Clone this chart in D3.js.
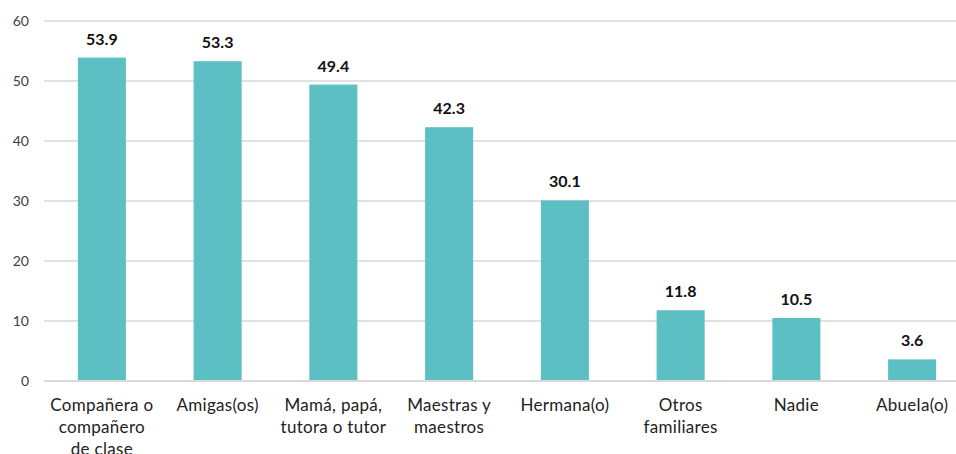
<!DOCTYPE html>
<html>
<head>
<meta charset="utf-8">
<script src="https://cdn.jsdelivr.net/npm/d3@7"></script>
<style>
  body { margin: 0; background: #fff; }
  #chart { width: 956px; height: 454px; }
</style>
</head>
<body>
<div id="chart"></div>
<script>
// data
var categories = [
  ["Compañera o", "compañero", "de clase"],
  ["Amigas(os)"],
  ["Mamá, papá,", "tutora o tutor"],
  ["Maestras y", "maestros"],
  ["Hermana(o)"],
  ["Otros", "familiares"],
  ["Nadie"],
  ["Abuela(o)"]
];
var values = [53.9, 53.3, 49.4, 42.3, 30.1, 11.8, 10.5, 3.6];
var yTicks = [0, 10, 20, 30, 40, 50, 60];

var width = 956, height = 454;
var margin = {top: 21, right: -14, bottom: 73, left: 44};
var innerW = width - margin.left - margin.right,
    innerH = height - margin.top - margin.bottom;

var svg = d3.select("#chart").append("svg")
    .attr("width", width)
    .attr("height", height)
  .append("g")
    .attr("transform", "translate(" + margin.left + "," + margin.top + ")");

var x = d3.scaleBand()
  .domain(d3.range(categories.length))
  .range([0, innerW])
  .paddingInner(0.585)
  .paddingOuter(0.2925);

var y = d3.scaleLinear()
  .domain([0, 60])
  .range([innerH, 0]);

// gridlines
svg.selectAll(".grid")
  .data(yTicks)
  .enter()
  .append("line")
    .attr("x1", 0)
    .attr("x2", innerW)
    .attr("y1", function(d){ return y(d); })
    .attr("y2", function(d){ return y(d); })
    .attr("stroke", "#d9d9d9")
    .attr("stroke-width", function(d){ return d === 0 ? 2 : 1.5; });

// y tick labels
svg.selectAll(".ytick")
  .data(yTicks)
  .enter()
  .append("text")
    .attr("x", -15)
    .attr("y", function(d){ return y(d); })
    .attr("dy", "0.35em")
    .attr("text-anchor", "end")
    .style("font-family", "Lato, 'Open Sans', sans-serif")
    .style("font-size", "14px")
    .style("fill", "#404040")
    .text(function(d){ return d; });

// bars
svg.selectAll(".bar")
  .data(values)
  .enter()
  .append("rect")
    .attr("x", function(d, i){ return x(i); })
    .attr("y", function(d){ return y(d); })
    .attr("width", x.bandwidth())
    .attr("height", function(d){ return innerH - y(d) - 1; })
    .attr("fill", "#5bbfc4");

// value labels
svg.selectAll(".val")
  .data(values)
  .enter()
  .append("text")
    .attr("x", function(d, i){ return x(i) + x.bandwidth() / 2; })
    .attr("y", function(d){ return y(d) - 13; })
    .attr("text-anchor", "middle")
    .style("font-family", "Lato, 'Open Sans', sans-serif")
    .style("font-size", "16px")
    .style("font-weight", "bold")
    .style("fill", "#111")
    .text(function(d){ return d.toFixed(1); });

// category labels
var cat = svg.selectAll(".cat")
  .data(categories)
  .enter()
  .append("text")
    .attr("text-anchor", "middle")
    .attr("transform", function(d, i){
      return "translate(" + (x(i) + x.bandwidth() / 2) + "," + (innerH + 30) + ")";
    })
    .style("font-family", "Lato, 'Open Sans', sans-serif")
    .style("font-size", "17px")
    .style("letter-spacing", "0.3px")
    .style("fill", "#222");

cat.selectAll("tspan")
  .data(function(d){ return d; })
  .enter()
  .append("tspan")
    .attr("x", 0)
    .attr("y", function(d, j){ return j * 22; })
    .text(function(d){ return d; });
</script>
</body>
</html>
